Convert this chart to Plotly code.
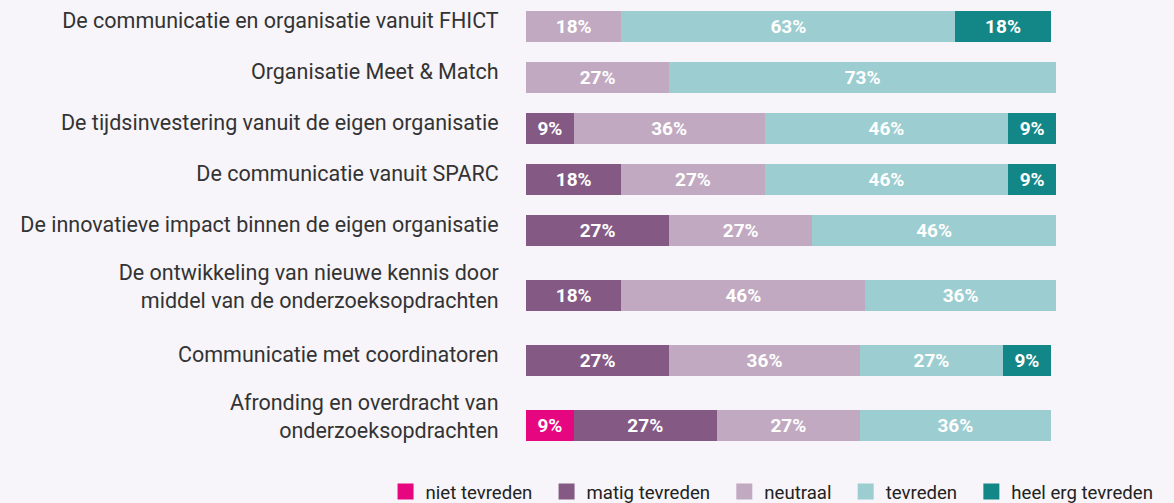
import plotly.graph_objects as go

categories = [
    "De communicatie en organisatie vanuit FHICT",
    "Organisatie Meet & Match",
    "De tijdsinvestering vanuit de eigen organisatie",
    "De communicatie vanuit SPARC",
    "De innovatieve impact binnen de eigen organisatie",
    "De ontwikkeling van nieuwe kennis door<br>middel van de onderzoeksopdrachten",
    "Communicatie met coordinatoren",
    "Afronding en overdracht van<br>onderzoeksopdrachten",
]
series_names = ["niet tevreden", "matig tevreden", "neutraal", "tevreden", "heel erg tevreden"]
niet_tevreden = [None, None, None, None, None, None, None, 9]
matig_tevreden = [None, None, 9, 18, 27, 18, 27, 27]
neutraal = [18, 27, 36, 27, 27, 46, 36, 27]
tevreden = [63, 73, 46, 46, 46, 36, 27, 36]
heel_erg_tevreden = [18, None, 9, 9, None, None, 9, None]
colors = ["#e6067f", "#845a85", "#c1aac1", "#9ccdd0", "#138787"]

# layout: row height depends on number of label lines
n_lines = [c.count("<br>") + 1 for c in categories]
row_h = [51 if n == 1 else 79 for n in n_lines]
pos = []
acc = 0
for h in row_h:
    pos.append(acc + h / 2)
    acc += h
total = acc
# labels sit slightly above the bar centre
label_pos = [p - (6 if n == 1 else 9) for p, n in zip(pos, n_lines)]

fig = go.Figure()
for name, vals, col in zip(series_names,
                           [niet_tevreden, matig_tevreden, neutraal, tevreden, heel_erg_tevreden],
                           colors):
    fig.add_trace(go.Bar(
        y=pos, x=vals, name=name, orientation="h",
        marker=dict(color=col, line=dict(width=0)),
        width=31,
        texttemplate="%{x}%", textposition="inside", insidetextanchor="middle",
        textangle=0, constraintext="none",
        textfont=dict(family="Roboto", size=19, color="white", weight="bold"),
        hoverinfo="skip", showlegend=False,
    ))
# legend entries (square swatches)
for name, col in zip(series_names, colors):
    fig.add_trace(go.Scatter(
        x=[None], y=[None], mode="markers", name=name + "\u00a0\u00a0",
        marker=dict(symbol="square", size=16, color=col, line=dict(width=0)),
        hoverinfo="skip", showlegend=True,
    ))

bg = "#f7f5f9"
fig.update_layout(
    barmode="stack",
    width=1174, height=503,
    paper_bgcolor=bg, plot_bgcolor=bg,
    margin=dict(l=526, r=118, t=1, b=38, autoexpand=False),
    font=dict(family="Roboto", color="#333333"),
    xaxis=dict(range=[0, 100], visible=False, fixedrange=True),
    yaxis=dict(range=[total, 0], tickmode="array", tickvals=label_pos, ticktext=categories,
               showgrid=False, zeroline=False, showline=False,
               ticks="outside", ticklen=22, tickcolor=bg,
               tickfont=dict(family="Roboto", size=21.5, color="#333333"), fixedrange=True),
    showlegend=True,
    legend=dict(orientation="h", x=-0.265, xanchor="left", y=-0.058, yanchor="middle",
                font=dict(family="Roboto", size=18.6, color="#222222"),
                traceorder="normal", itemclick=False, itemdoubleclick=False,
                bgcolor="rgba(0,0,0,0)"),
)

fig.write_html("out.html", config={"displayModeBar": False},
               post_script="document.body.style.margin='0';")
